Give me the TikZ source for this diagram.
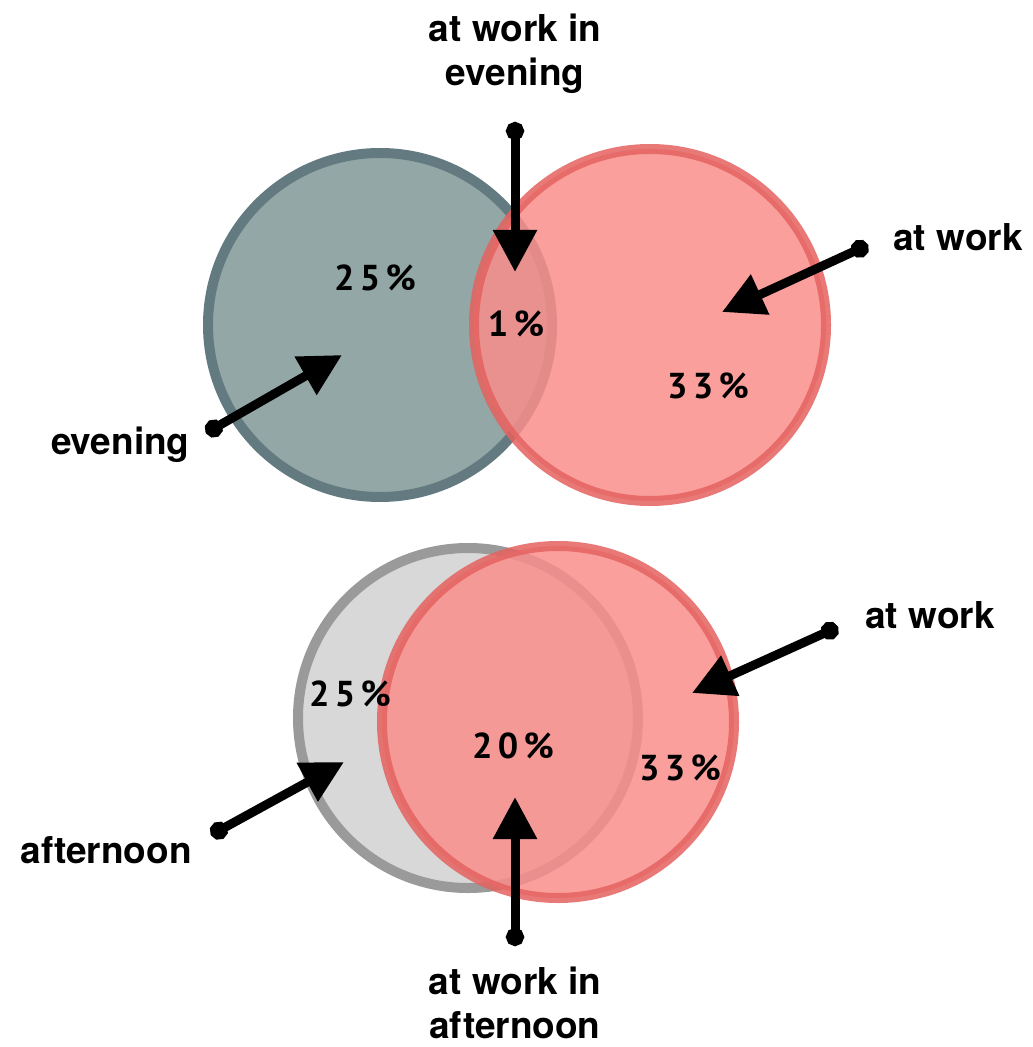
\documentclass[tikz,border=0pt]{standalone}
\usepackage{fontspec}
\setmainfont{TeX Gyre Heros}
\newfontfamily\pctfont[LetterSpace=15]{PT Sans}
\usetikzlibrary{arrows.meta}
\definecolor{tealfill}{HTML}{93A8A6}
\definecolor{tealline}{HTML}{627A80}
\definecolor{redfill}{HTML}{F98E8B}
\definecolor{redline}{HTML}{E4625F}
\definecolor{greyfill}{HTML}{D8D8D8}
\definecolor{greyline}{HTML}{9A9A9A}
\tikzset{
  lbl/.style={font=\fontsize{18.5}{22}\selectfont\bfseries, align=center, inner sep=0pt},
  pct/.style={font=\fontsize{18}{20}\selectfont\pctfont\bfseries, inner sep=0pt},
  pointer/.style={line width=4.5pt, black, line cap=round,
    {Circle[length=9pt]}-{Triangle[width=21pt,length=21pt]}},
  circ/.style={line width=5pt}
}
\begin{document}
\begin{tikzpicture}[x=0.5pt,y=-0.5pt]
\useasboundingbox (0,0) rectangle (1032,1047);
% top venn
\path[circ, fill=tealfill, draw=tealline] (380,325) circle[radius=172];
\path[circ, fill=redfill, draw=redline, opacity=0.85] (650,325) circle[radius=176];
% bottom venn
\path[circ, fill=greyfill, draw=greyline] (468,718) circle[radius=170];
\path[circ, fill=redfill, draw=redline, opacity=0.85] (558,722) circle[radius=176];

% labels
\node[lbl] (lwe) at (515,54) {at work in\\evening};
\node[lbl, anchor=west] (lw1) at (893,237) {at work};
\node[lbl, anchor=east] (lev) at (190,445) {evening};
\node[lbl, anchor=west] (lw2) at (865,615) {at work};
\node[lbl, anchor=east] (laf) at (192,850) {afternoon};
\node[lbl] (lwa) at (515,1003) {at work in\\afternoon};

% percentages
\node[pct] (p25a) at (375,278) {25\%};
\node[pct] (p1) at (516,324) {1\%};
\node[pct] (p33a) at (708,386) {33\%};
\node[pct] (p25b) at (350,694) {25\%};
\node[pct] (p20) at (513,746) {20\%};
\node[pct] (p33b) at (680,768) {33\%};

% pointer ends
\coordinate (t1) at (515,122); \coordinate (h1) at (515,272);
\coordinate (t2) at (868,245); \coordinate (h2) at (722,312);
\coordinate (t3) at (206,433); \coordinate (h3) at (342,355);
\coordinate (t4) at (211,835); \coordinate (h4) at (344,762);
\coordinate (t5) at (838,627); \coordinate (h5) at (692,693);
\coordinate (t6) at (515,946); \coordinate (h6) at (515,797);

\draw[pointer] (t1) -- (h1);
\draw[pointer] (t2) -- (h2);
\draw[pointer] (t3) -- (h3);
\draw[pointer] (t4) -- (h4);
\draw[pointer] (t5) -- (h5);
\draw[pointer] (t6) -- (h6);
\end{tikzpicture}
\end{document}
